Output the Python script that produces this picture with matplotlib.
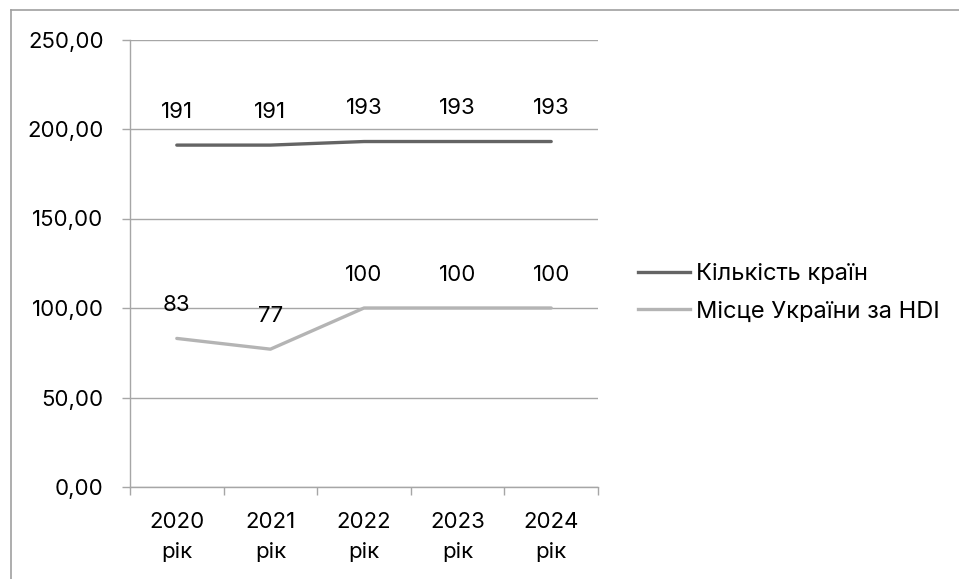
import numpy as np
import matplotlib.pyplot as plt
from matplotlib.lines import Line2D

years = ['2020\nрік', '2021\nрік', '2022\nрік', '2023\nрік', '2024\nрік']
countries = [191, 191, 193, 193, 193]
ukraine_rank = [83, 77, 100, 100, 100]
series_names = ['Кількість країн', 'Місце України за HDI']
yticks = [0, 50, 100, 150, 200, 250]

dark = '#646464'
light = '#b4b4b4'
grid_c = '#a6a6a6'

plt.rcParams['font.family'] = ['Inter', 'DejaVu Sans']
fs = 16

fig = plt.figure(figsize=(9.59, 5.79), dpi=100)
W, H = 959, 579
ax = fig.add_axes([130 / W, 1 - 487 / H, 468 / W, 447.5 / H])

x = np.arange(len(years))
ax.plot(x, countries, color=dark, lw=2.4, solid_capstyle='round')
ax.plot(x, ukraine_rank, color=light, lw=2.4, solid_capstyle='round')

for xi, v in zip(x, countries):
    ax.annotate(str(v), (xi, v), xytext=(0, 24), textcoords='offset points',
                ha='center', va='center', fontsize=fs, color='black')
for xi, v in zip(x, ukraine_rank):
    ax.annotate(str(v), (xi, v), xytext=(0, 24), textcoords='offset points',
                ha='center', va='center', fontsize=fs, color='black')

ax.set_xlim(-0.5, len(years) - 0.5)
ax.set_ylim(0, 250)
ax.set_yticks(yticks)
ax.set_yticklabels([f'{t:.2f}'.replace('.', ',') for t in yticks], fontsize=fs)
ax.set_xticks(x)
ax.set_xticklabels(years, fontsize=fs, linespacing=1.6)
ax.set_xticks(np.arange(-0.5, len(years)), minor=True)
ax.tick_params(axis='x', which='major', length=0, pad=18)
ax.tick_params(axis='x', which='minor', length=6, color=grid_c, width=1)
ax.tick_params(axis='y', length=6, color=grid_c, width=1, pad=13)
ax.yaxis.grid(True, color=grid_c, lw=1)
ax.set_axisbelow(True)
for s in ['top', 'right']:
    ax.spines[s].set_visible(False)
for s in ['left', 'bottom']:
    ax.spines[s].set_color(grid_c)
    ax.spines[s].set_linewidth(1)

handles = [Line2D([], [], color=dark, lw=2.4), Line2D([], [], color=light, lw=2.4)]
fig.legend(handles, series_names, loc='center left',
           bbox_to_anchor=(617 / W, 1 - 293 / H), frameon=False,
           prop={'family': 'Inter', 'size': 17}, handlelength=2.2,
           handletextpad=0.25, labelspacing=0.65)

# outer frame (top and left only)
fig.add_artist(Line2D([11 / W, 11 / W], [0, 1 - 10 / H], transform=fig.transFigure,
                      color='#a0a0a0', lw=1.2))
fig.add_artist(Line2D([11 / W, 1], [1 - 10 / H, 1 - 10 / H], transform=fig.transFigure,
                      color='#a0a0a0', lw=1.2))

fig.savefig('out.png', dpi=100)
